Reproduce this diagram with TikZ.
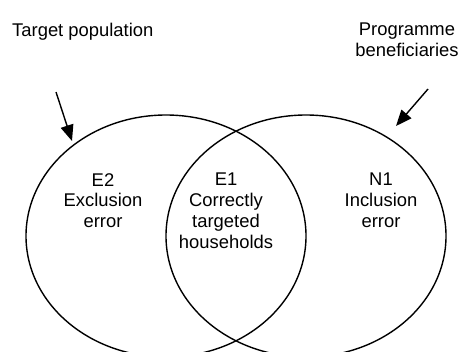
\documentclass[tikz,border=0pt]{standalone}
\usepackage{fontspec}
\setmainfont{Liberation Sans}
\usetikzlibrary{shapes.geometric,arrows.meta}
\begin{document}
\begin{tikzpicture}[x=1bp,y=-1bp,
  set/.style={draw,ellipse,line width=1.4bp,inner sep=0pt,outer sep=0pt,minimum width=280bp,minimum height=242bp},
  lbl/.style={align=center,inner sep=0pt,anchor=north,font=\fontsize{18.4bp}{20.8bp}\selectfont},
  pointer/.style={line width=1.4bp,-{Triangle[length=16bp,width=13bp]}}]
\useasboundingbox (0,0) rectangle (463,351);
\node[set] (A) at (166,236) {};
\node[set] (B) at (306,236) {};
\node[lbl,anchor=base west] (tp) at (12,36) {Target population};
\node[lbl] (pb) at (407,23) {Programme\\beneficiaries};
\node[lbl] (e2) at (103,173) {E2\\Exclusion\\error};
\node[lbl] (e1) at (226,173) {E1\\Correctly\\targeted\\households};
\node[lbl] (n1) at (381,173) {N1\\Inclusion\\error};
\coordinate (t1) at (56,92);
\coordinate (h1) at (72,141);
\coordinate (t2) at (428,89);
\coordinate (h2) at (396,126);
\draw[pointer] (t1) -- (h1);
\draw[pointer] (t2) -- (h2);
\end{tikzpicture}
\end{document}
